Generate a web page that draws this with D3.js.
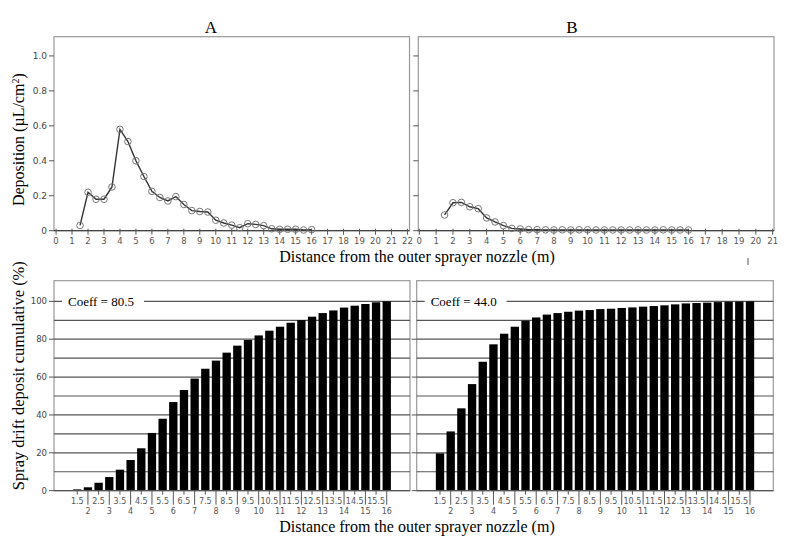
<!DOCTYPE html>
<html>
<head>
<meta charset="utf-8">
<script src="https://cdn.jsdelivr.net/npm/d3@7"></script>
<style>
  body { margin: 0; background: #fff; }
  svg { display: block; }
</style>
</head>
<body>
<div id="graph"></div>
<script>
// distances (m) where drift was sampled
var distances = [1.5, 2, 2.5, 3, 3.5, 4, 4.5, 5, 5.5, 6, 6.5, 7, 7.5, 8, 8.5, 9, 9.5, 10,
                 10.5, 11, 11.5, 12, 12.5, 13, 13.5, 14, 14.5, 15, 15.5, 16];

// deposition (uL/cm2)
var depositionA = [0.03, 0.22, 0.18, 0.18, 0.25, 0.58, 0.51, 0.40, 0.31, 0.225, 0.19, 0.17, 0.195, 0.15, 0.115,
                   0.11, 0.107, 0.06, 0.044, 0.032, 0.017, 0.04, 0.036, 0.029, 0.011, 0.008, 0.008, 0.008, 0.004, 0.006];
var depositionB = [0.09, 0.16, 0.162, 0.137, 0.126, 0.073, 0.05, 0.029, 0.013, 0.01, 0.006, 0.006, 0.005, 0.004, 0.005,
                   0.004, 0.005, 0.005, 0.004, 0.004, 0.004, 0.004, 0.004, 0.005, 0.004, 0.004, 0.005, 0.004, 0.004, 0.004];

// cumulative deposit (%)
var cumulativeA = [0.7, 1.8, 4.2, 7.2, 11.1, 16.2, 22.4, 30.5, 38.0, 46.8, 53.2, 59.2, 64.4, 68.7, 72.9,
                   76.6, 79.6, 82.0, 84.5, 86.6, 88.7, 90.1, 91.9, 93.8, 95.2, 96.7, 97.7, 98.6, 99.5, 100];
var cumulativeB = [19.7, 31.3, 43.5, 56.3, 68.1, 77.3, 82.9, 86.6, 89.8, 91.5, 93.0, 93.8, 94.5, 95.1, 95.4,
                   95.9, 96.1, 96.5, 96.8, 97.2, 97.5, 97.9, 98.4, 98.9, 99.1, 99.3, 99.6, 99.8, 99.9, 100];

var panelTitles = ["A", "B"];
var coeffLabels = ["Coeff = 80.5", "Coeff = 44.0"];
var xTicksA = d3.range(0, 23);
var xTicksB = d3.range(0, 22);
var depTicks = [0, 0.2, 0.4, 0.6, 0.8, 1.0];
var cumTicks = [0, 20, 40, 60, 80, 100];
var cumGrid = [10, 20, 30, 40, 50, 60, 70, 80, 90, 100];

var width = 800, height = 537;
var serif = "'Liberation Serif', 'Times New Roman', serif";
var sans = "'DejaVu Sans', Verdana, sans-serif";

var svg = d3.select("#graph").append("svg")
    .attr("width", width)
    .attr("height", height);

// ---------- top: deposition line charts ----------
var topBox = {y0: 36.7, y1: 230.7};
var topPanels = [
    {x0: 54, x1: 409.5, dom: [-0.13, 22.13], ticks: xTicksA, data: depositionA, labels: true, title: panelTitles[0], titleX: 211},
    {x0: 418.3, x1: 774, dom: [-0.06, 21.08], ticks: xTicksB, data: depositionB, labels: false, title: panelTitles[1], titleX: 572}
];

var yDep = d3.scaleLinear().domain([0, 1.11]).range([topBox.y1, topBox.y0]);

topPanels.forEach(function(p) {
    var x = d3.scaleLinear().domain(p.dom).range([p.x0, p.x1]);
    var g = svg.append("g");

    g.append("rect")
        .attr("x", p.x0).attr("y", topBox.y0)
        .attr("width", p.x1 - p.x0).attr("height", topBox.y1 - topBox.y0)
        .attr("fill", "none").attr("stroke", "#999").attr("stroke-width", 1.2);

    // y ticks
    g.selectAll(".yt").data(depTicks).enter().append("line")
        .attr("x1", p.x0 - 5).attr("x2", p.x0)
        .attr("y1", function(d) { return yDep(d); })
        .attr("y2", function(d) { return yDep(d); })
        .attr("stroke", "#555").attr("stroke-width", 1);

    if (p.labels) {
        g.selectAll(".yl").data(depTicks).enter().append("text")
            .attr("x", p.x0 - 7)
            .attr("y", function(d) { return yDep(d); })
            .attr("dy", "0.35em")
            .attr("text-anchor", "end")
            .attr("font-family", sans).attr("font-size", 9).attr("fill", "#444")
            .text(function(d) { return d === 0 ? "0" : d.toFixed(1); });
    }

    // x axis line + ticks
    g.append("line")
        .attr("x1", p.x0).attr("x2", p.x1)
        .attr("y1", topBox.y1).attr("y2", topBox.y1)
        .attr("stroke", "#444").attr("stroke-width", 1.3);

    g.selectAll(".xt").data(p.ticks).enter().append("line")
        .attr("x1", function(d) { return x(d); })
        .attr("x2", function(d) { return x(d); })
        .attr("y1", topBox.y1 - 2).attr("y2", topBox.y1 + 4)
        .attr("stroke", "#555").attr("stroke-width", 1);

    g.selectAll(".xl").data(p.ticks).enter().append("text")
        .attr("x", function(d) { return x(d); })
        .attr("y", topBox.y1 + 13)
        .attr("text-anchor", "middle")
        .attr("font-family", sans).attr("font-size", 8.5).attr("fill", "#555")
        .text(function(d) { return d; });

    var line = d3.line()
        .x(function(d, i) { return x(distances[i]); })
        .y(function(d) { return yDep(d); });

    g.append("path")
        .datum(p.data)
        .attr("d", line)
        .attr("fill", "none").attr("stroke", "#333").attr("stroke-width", 1.4);

    g.selectAll(".pt").data(p.data).enter().append("circle")
        .attr("cx", function(d, i) { return x(distances[i]); })
        .attr("cy", function(d) { return yDep(d); })
        .attr("r", 3.3)
        .attr("fill", "none").attr("stroke", "#777").attr("stroke-width", 1);

    g.append("text")
        .attr("x", p.titleX)
        .attr("y", topBox.y0 - 4)
        .attr("text-anchor", "middle")
        .attr("font-family", serif).attr("font-size", 17)
        .text(p.title);
});

svg.append("text")
    .attr("transform", "translate(24," + ((topBox.y0 + topBox.y1) / 2 + 6) + ") rotate(-90)")
    .attr("text-anchor", "middle")
    .attr("font-family", serif).attr("font-size", 16)
    .html("Deposition (µL/cm<tspan baseline-shift='super' font-size='10'>2</tspan>)");

svg.append("text")
    .attr("x", 417).attr("y", 262)
    .attr("text-anchor", "middle")
    .attr("font-family", serif).attr("font-size", 16)
    .text("Distance from the outer sprayer nozzle (m)");

svg.append("line")
    .attr("x1", 748).attr("x2", 748).attr("y1", 258).attr("y2", 265)
    .attr("stroke", "#555").attr("stroke-width", 1);

// ---------- bottom: cumulative bar charts ----------
var botBox = {y0: 280.7, y1: 490.7};
var botPanels = [
    {x0: 54, x1: 410, data: cumulativeA, labels: true, coeff: coeffLabels[0]},
    {x0: 416.7, x1: 773.3, data: cumulativeB, labels: false, coeff: coeffLabels[1]}
];

var yCum = d3.scaleLinear().domain([0, 110.9]).range([botBox.y1, botBox.y0]);

botPanels.forEach(function(p) {
    var x = d3.scaleBand()
        .domain(distances)
        .range([p.x0, p.x1])
        .paddingInner(0.22)
        .paddingOuter(1.79);
    var g = svg.append("g");

    g.append("rect")
        .attr("x", p.x0).attr("y", botBox.y0)
        .attr("width", p.x1 - p.x0).attr("height", botBox.y1 - botBox.y0)
        .attr("fill", "none").attr("stroke", "#999").attr("stroke-width", 1.2);

    g.selectAll(".grid").data(cumGrid).enter().append("line")
        .attr("x1", p.x0).attr("x2", p.x1)
        .attr("y1", function(d) { return yCum(d); })
        .attr("y2", function(d) { return yCum(d); })
        .attr("stroke", "#555").attr("stroke-width", 1.2);

    g.selectAll(".bar").data(p.data).enter().append("rect")
        .attr("x", function(d, i) { return x(distances[i]); })
        .attr("y", function(d) { return yCum(d); })
        .attr("width", x.bandwidth())
        .attr("height", function(d) { return botBox.y1 - yCum(d); })
        .attr("fill", "#000");

    // coefficient label breaks the 100 line
    var coeffX = p.x0 + 14;
    var t = g.append("text")
        .attr("x", coeffX)
        .attr("y", yCum(100))
        .attr("dy", "0.35em")
        .attr("font-family", serif).attr("font-size", 13)
        .text(p.coeff);
    var bb = t.node().getBBox();
    g.insert("rect", function() { return t.node(); })
        .attr("x", p.x0 + 8).attr("y", bb.y)
        .attr("width", bb.x + bb.width + 10 - (p.x0 + 8)).attr("height", bb.height)
        .attr("fill", "#fff");

    g.selectAll(".yt").data(cumTicks).enter().append("line")
        .attr("x1", p.x0 - 5).attr("x2", p.x0)
        .attr("y1", function(d) { return yCum(d); })
        .attr("y2", function(d) { return yCum(d); })
        .attr("stroke", "#555").attr("stroke-width", 1);

    if (p.labels) {
        g.selectAll(".yl").data(cumTicks).enter().append("text")
            .attr("x", p.x0 - 7)
            .attr("y", function(d) { return yCum(d); })
            .attr("dy", "0.35em")
            .attr("text-anchor", "end")
            .attr("font-family", sans).attr("font-size", 8.5).attr("fill", "#444")
            .text(function(d) { return d; });
    }

    g.append("line")
        .attr("x1", p.x0).attr("x2", p.x1)
        .attr("y1", botBox.y1).attr("y2", botBox.y1)
        .attr("stroke", "#555").attr("stroke-width", 1.2);

    var cx = function(d) { return x(d) + x.bandwidth() / 2; };
    var isInt = function(d) { return d % 1 === 0; };

    g.selectAll(".xt").data(distances).enter().append("line")
        .attr("x1", cx).attr("x2", cx)
        .attr("y1", botBox.y1)
        .attr("y2", function(d) { return isInt(d) ? botBox.y1 + 14 : botBox.y1 + 4; })
        .attr("stroke", "#555").attr("stroke-width", 1);

    g.selectAll(".xl").data(distances).enter().append("text")
        .attr("x", cx)
        .attr("y", function(d) { return isInt(d) ? botBox.y1 + 23 : botBox.y1 + 13; })
        .attr("text-anchor", "middle")
        .attr("font-family", sans).attr("font-size", 8).attr("fill", "#555")
        .text(function(d) { return d; });
});

svg.append("text")
    .attr("transform", "translate(24," + ((botBox.y0 + botBox.y1) / 2 - 10) + ") rotate(-90)")
    .attr("text-anchor", "middle")
    .attr("font-family", serif).attr("font-size", 16.5)
    .text("Spray drift deposit cumulative (%)");

svg.append("text")
    .attr("x", 417).attr("y", 532)
    .attr("text-anchor", "middle")
    .attr("font-family", serif).attr("font-size", 16)
    .text("Distance from the outer sprayer nozzle (m)");
</script>
</body>
</html>
